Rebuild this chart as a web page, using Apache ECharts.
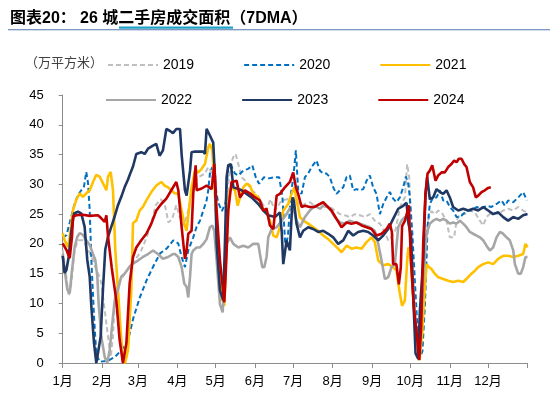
<!DOCTYPE html>
<html><head><meta charset="utf-8">
<script src="https://cdn.jsdelivr.net/npm/echarts@6/dist/echarts.min.js"></script>
<style>html,body{margin:0;padding:0;background:#fff}#c{width:550px;height:395px}</style>
</head><body><div id="c"></div>
<script>
// x values are day of year (0..365), y values are 万平方米 (7DMA)
const monthStarts = [0,31,59,90,120,151,181,212,243,273,304,334,365];
const monthLabels = ['1月','2月','3月','4月','5月','6月','7月','8月','9月','10月','11月','12月'];
const yTicks = [0,5,10,15,20,25,30,35,40,45];
const seriesNames = ['2019','2020','2021','2022','2023','2024'];

const s2019 = [[0,19],[2.9,14.5],[4.7,11.2],[6.8,13.4],[9.4,19],[12,20.6],[15.9,20.6],[19.9,19],[23.8,17.3],[26.4,15.6],[29,14.5],[30.3,13.4],[33,8.9],[35.6,4.4],[37.7,1],[39.5,4.4],[40.8,10],[42.9,13.4],[46,14],[48.6,15],[52.6,16.1],[55.2,16.7],[61.7,18.9],[65.7,21],[69.6,23.5],[73,26.5],[77,27.5],[80,26.8],[83,23.6],[86,24.2],[89.2,26.5],[92,24.5],[95,23],[98.6,25.6],[101.2,28.4],[103.9,30.6],[106.5,31.2],[111.7,31.8],[114.3,32.9],[117,32],[119.2,29],[121,22],[123.5,15],[126,14],[127.6,18],[129.5,28.4],[131.3,32.9],[134,34.6],[135.8,35.1],[137.9,33.4],[140.5,31.2],[144.4,30.4],[148.3,29],[152.3,28.4],[156.2,27],[160.1,25.6],[163,27.5],[166.7,25.6],[171.9,27.3],[176.5,27.5],[178.4,27.3],[182.3,27.8],[186.3,26.4],[190.2,26.7],[194.1,27],[198,26.4],[202,26.7],[205.9,26.2],[209.8,26.2],[213.7,25.6],[217.7,25],[221.6,24.8],[225.5,24.5],[229.4,25],[233.4,24.8],[237.3,24.5],[241.2,25],[245.1,23.9],[249.1,23.4],[253,22],[255.6,20.6],[258.2,21.1],[261.6,22.5],[264.8,26.2],[268.7,27.8],[270.5,33.4],[272.1,31.2],[274,22],[276.5,10],[279,5],[281.5,8],[284,18],[287,24],[289.6,25.5],[292.3,25],[294.9,25.6],[297.5,25.3],[301.4,23.9],[304,21.1],[305.3,20.8],[307.4,21.1],[309.3,23.9],[311.9,25],[315.8,25],[319.7,25.6],[323.7,25.3],[327.6,23.9],[330.2,23.1],[332.8,24.5],[335.4,25],[338,25.3],[342,25],[345.9,25.6],[349.8,25.9],[353.8,25.6],[357.7,26.2],[361.6,25.6],[364.5,25.3]];

const s2020 = [[0,21],[3,21.5],[6.8,24.6],[9.4,26.8],[12,28.2],[14.6,29],[16.7,29.6],[18.5,32.1],[19.9,30.2],[21.2,25.7],[22.5,17.3],[24.6,7.8],[26.4,1.5],[29,0.2],[35.6,0.4],[40.8,1],[46,2.1],[51.3,3.8],[55.4,7.5],[60.7,11.1],[65.9,13.9],[71.1,16.2],[76.4,18.4],[81.6,19.2],[86.8,20.6],[90.7,20.1],[93.4,17.8],[96,16.1],[98.6,18.9],[102.5,21.1],[105.2,22.9],[107.8,23.9],[110.4,25.6],[113,27.3],[114.3,29],[115.6,31.8],[117.5,32.9],[119.6,30],[122,27],[125,25.5],[128,27],[130,33.2],[132.6,33],[135.3,31.8],[137.9,31.5],[141.8,32.3],[145.7,32.6],[148.9,33.2],[151.6,31.2],[154.2,30.1],[158.1,31.2],[162,31],[166,31.2],[170,31.2],[172.5,28],[174.8,20],[176.8,21.1],[179.2,28.4],[181,31],[183.1,35.7],[184.9,29],[187.6,28.4],[190.2,31.2],[192.8,31.8],[195.4,32.9],[199.3,34],[202,32.3],[204.6,31.8],[207.2,31.8],[209.8,31.2],[212.4,29.5],[215,28.4],[217.7,29],[220.3,29.5],[222.9,31.2],[225.5,31.5],[228.1,29],[230.7,29.2],[233.4,29],[236,29.2],[238.6,30.6],[241.2,31.5],[243.8,29.5],[246.4,28.4],[249.1,25],[251.7,26.7],[254.3,27.8],[256.9,28.7],[259.5,27.6],[262.1,27],[264.8,27.8],[267.4,29.5],[269.5,31.3],[271.3,30.1],[272.5,28],[274.5,22],[277,12],[280,0.5],[282.5,2],[284.5,10],[285.5,16],[286.5,22.8],[288.3,26.7],[290.9,27.8],[293.6,27.8],[296.2,29],[298.8,27.3],[301.4,27.3],[304,26.2],[306.6,25.6],[309.3,24.5],[311.9,24.5],[314.5,25],[317.1,25.6],[321,25.6],[325,26.2],[328.9,25.9],[332.8,26.4],[336.7,26.2],[340.7,26.7],[344.6,27.3],[347.2,26.4],[349.8,27.3],[353.8,27],[357.7,27.8],[361.6,28.7],[364.5,27.3]];

const s2021 = [[0,21.8],[1.5,20.6],[4.2,19.5],[6.3,22.3],[8.1,25.7],[10.7,27.4],[13.3,28.5],[15.9,27.9],[18.5,28.5],[21.2,29],[23.8,30.4],[26.4,31.6],[29,31.3],[31.6,30.2],[34.3,29],[35.6,31.3],[37.7,32.1],[39.5,29],[41.3,19],[43.4,12.3],[45.5,5.5],[47.3,0.3],[49,0],[51.3,2.2],[53.9,12.3],[55.2,23.5],[57.8,23.9],[60.4,25.6],[63,26.2],[65.7,27.3],[69.6,28.7],[73.5,29.8],[77.4,30.4],[80,29.8],[82.7,29.5],[85.3,29],[87.9,28.5],[90.8,28.4],[93.4,25.6],[95.5,23.4],[97.3,22.2],[98.6,24.8],[101.2,29.5],[103.9,32.3],[106.5,32],[109.1,32.6],[111.7,33.4],[114.3,36.2],[115.6,36.8],[117.5,35.7],[119.6,28.4],[122.2,17.2],[124.8,11],[126.9,9.6],[128.7,20],[130.6,28.4],[132.6,29.5],[135.3,29],[137.4,26.4],[139.2,27.8],[141.8,29.5],[144.4,30.1],[147,29.8],[149.6,28.4],[153.6,27.8],[156.2,26.2],[160.1,25.3],[162.7,23.9],[165.4,21.4],[168,21.1],[170.6,22.8],[173.2,25.6],[177.1,26.7],[179.7,28.4],[182,29.5],[184,27],[186.3,24.5],[189,23.9],[192.8,23.4],[196.7,22.8],[200.6,22.2],[204.6,21.4],[208.5,20.8],[212.4,20],[216.3,19.2],[219,18.6],[222.9,19.7],[226.8,19.2],[230.7,19.4],[234.7,19.2],[238.6,20.3],[242.5,21.1],[245.1,20.3],[247.8,17.2],[251.7,16.4],[255.6,16.6],[259.5,16.1],[262.1,15.5],[264.5,12],[266.5,9.6],[268.7,10.5],[270.5,17.2],[271.5,19.4],[273,18.5],[275.2,11],[277.8,4],[280.2,0.5],[282.3,5],[284,11.6],[285.7,16.6],[287.5,16.1],[289.6,15.8],[292.2,15],[294.9,14.4],[298.8,14.1],[302.7,13.8],[306.6,13.6],[310.6,13.8],[314.5,13.6],[318.4,14.4],[321,15],[323.7,15.5],[326.3,16.1],[330.2,16.6],[334.1,16.9],[338,16.6],[342,17.5],[345.9,18],[349.8,18],[353.8,17.8],[357.7,18],[361.6,18.3],[363.4,20],[365,19.4]];

const s2022 = [[0,18.3],[1.5,15.6],[3.7,12.3],[5.5,11.7],[7.3,15.6],[9.4,19.5],[11.5,21.2],[13.3,21.8],[15.9,21.5],[18.5,20.6],[21.2,19.8],[23.8,18.3],[25.6,17.3],[27.2,14.5],[28.2,10],[30.3,4.4],[33,1],[35,0],[36.9,2.2],[38.7,6.1],[40.8,10.5],[43.4,12.3],[46,14.5],[48.6,15],[52.6,16.2],[55.2,16.7],[59.1,17.2],[63,17.8],[67,18.3],[70.9,18.9],[74.8,18.3],[78.7,17.5],[82.7,17.8],[86.6,18.3],[88.2,18.3],[90.8,17.8],[93.4,16.1],[95.5,13.3],[97.3,12.8],[98.6,11],[100,14.5],[101.2,18.3],[102.5,18.9],[105.2,19.4],[107.8,19.4],[110.4,20],[113,20.8],[115.6,22.8],[117.5,23.1],[119,22.2],[120.9,17.2],[123.5,9.9],[125.6,8.5],[127.4,14.4],[128.7,20],[131.3,21.1],[134,20],[137.9,19.4],[141.8,19.7],[145.7,19.4],[149.6,20],[153.6,20],[154.9,18.3],[156.7,16.1],[158.3,16.1],[160.1,17.8],[161.4,21.1],[164.1,22.5],[168,22.8],[171.9,23.9],[175.8,25],[178.4,26],[181,26.2],[183.6,23.9],[186.3,22.8],[190.2,24.5],[194.1,25.6],[198,26.4],[202,25.9],[205.9,26.7],[209.8,25.9],[213.7,24.5],[217.7,23.6],[221.6,23.4],[225.5,23.9],[229.4,23.6],[233.4,23.4],[237.3,23.1],[241.2,22.8],[245.1,22.2],[247.8,20],[250.4,17.2],[253,14.1],[255.6,14.4],[258.2,16.1],[260.8,16.6],[263.5,22.8],[266.1,23.9],[268.7,24.5],[271.3,24.5],[273.5,20],[276,10],[278.5,3],[281,6],[283.5,15],[285.7,21.7],[288.3,23.4],[290.9,23.9],[293.6,24.2],[296.2,23.9],[298.8,24.2],[301.4,23.9],[304,23.4],[306.6,23.6],[309.3,23.4],[311.9,23.9],[314.5,23.4],[317.1,22.8],[319.7,22],[322.3,21.7],[325,21.4],[327.6,21.1],[330.2,20.6],[332.8,19.7],[335.4,18.9],[338,19.4],[340.7,21.1],[343.3,22],[345.9,21.7],[348.5,21.1],[351.1,20.6],[353.8,18.9],[355.1,16.6],[357.7,15],[359.8,15],[361.6,16.1],[363.4,17.8],[365,17.8]];

const s2023 = [[0,18],[1.5,15.1],[2.9,15.6],[4.7,17.8],[6.8,22.3],[8.9,25.1],[12,25.4],[14.6,25.1],[17.2,22.9],[19.3,17.3],[21.2,14.5],[22.5,9.5],[24.6,3.3],[26.4,0],[27.7,0],[29.8,4.4],[31.6,12.3],[33.4,19],[35.6,21.2],[38.2,22.9],[40.8,24.6],[43.4,26.5],[46,27.9],[48.6,29.5],[51.3,30.8],[53,31.8],[55.2,33],[57.8,35.1],[61.7,35.4],[64.4,35.1],[67,36],[70.9,36.5],[73.5,36.8],[76.1,34.8],[78.7,35.7],[81.4,39.3],[84,39],[86.6,38.6],[89.2,39.3],[92.1,39.3],[93.4,35],[96,29],[97.3,28.1],[100,32.3],[101.2,35.4],[103.9,35.5],[110.4,35.5],[111.7,35.1],[113,39.3],[115.6,38.2],[118.2,37],[119.6,31.2],[120.9,20],[123.5,12.2],[126.1,10.5],[127.4,20],[128.7,31.2],[130,33.2],[132.1,33.4],[134,29.5],[137.9,29.2],[140.5,29],[144.4,28.4],[148.3,27.8],[153.6,26.7],[157.5,25.6],[161.4,24.8],[166.7,24.5],[170.6,25.3],[172,22],[173.2,16.6],[175.8,20.6],[178.4,18.9],[180.5,27.8],[181.5,27.3],[183.6,23.4],[186.3,21.1],[188.9,22.2],[192.8,22.8],[196.7,22.5],[200.6,22],[204.6,22.2],[208.5,21.7],[212.4,21.1],[216.3,20],[220.3,20.6],[224.2,22.2],[228.1,21.4],[232,22],[236,22.2],[239.9,22],[243.8,21.4],[247.8,20.6],[251.7,21.4],[255.6,22.5],[259.5,24.2],[263.5,25.9],[267.4,26.4],[270,26.9],[271.5,23.5],[273.5,21.5],[275.2,11.6],[277.1,1.6],[279.2,0.7],[280.5,8.8],[283.1,17.2],[284.9,28.4],[286.2,31.2],[288.3,27.5],[290.9,27.8],[293.6,29.2],[296.2,28.7],[298.8,28.4],[301.4,29],[304,27.8],[306.6,26.2],[310.6,25.6],[314.5,25.9],[318.4,25.6],[322.3,25.9],[326.3,25.6],[330.2,26.2],[334.1,25.6],[338,25],[342,25.3],[345.9,24.5],[349.8,23.9],[353.8,24.5],[357.7,24.2],[361.6,24.8],[365,25]];

const s2024 = [[0,20.1],[2.9,19],[5.5,17.6],[7.3,21.2],[8.1,24.6],[10.7,24.8],[15.9,24.9],[21.2,24.7],[27.7,24.8],[30.3,24.3],[33,23.7],[34.3,24.8],[35.6,21.2],[38.5,16],[42.1,10.5],[44.7,3.9],[47.3,0],[50,3.3],[52.6,13.4],[55.2,17.8],[57.8,19.4],[61.7,20.6],[65.7,21.7],[69.6,23.4],[73.5,25.6],[77.4,26.7],[81.4,27.6],[85.3,29],[89.2,30.4],[90.8,29],[93.4,22.8],[96,17.5],[97.3,18.9],[98.6,21.7],[101.2,22.2],[102.5,28.4],[104.4,33.2],[105.2,29],[109.1,29.3],[113,29.8],[117,29.2],[119,33.4],[120.9,25.6],[123.5,17.2],[126.9,10.2],[127.9,14.4],[130,25.6],[132.6,30.4],[136.6,30.6],[139.2,27.8],[143.1,29],[147,28.5],[151,27.8],[154.9,27.3],[157.5,25.6],[160.1,25.9],[162.7,23.1],[165.4,22.5],[168,28.1],[170.6,28.4],[174.5,29.5],[178.4,30.4],[181,32],[183.1,29.5],[184.9,28.4],[187.6,26.2],[190.2,26.4],[194.1,26.2],[198,26.2],[202,26.7],[204.6,27],[207.2,26.4],[211.1,25.6],[215,24.2],[219,22.8],[222.9,23.6],[226.8,23.4],[230.7,23.6],[234.7,23.1],[238.6,22.8],[242.5,22.5],[246.4,21.4],[250.4,21.7],[254.3,22.5],[256.9,23.4],[258.5,22],[259.5,16.6],[262,16.6],[264,13.2],[265.5,16],[266.5,23],[269,24],[271.8,26.5],[273.5,17],[276,8.8],[278,5],[280,0.5],[281.5,6],[283.1,20],[284.9,28.4],[286.5,31.8],[288.3,32.3],[290.2,33.2],[291.5,33.4],[292.8,30.6],[294.9,31.5],[297.5,32],[300.1,32],[302.7,32.9],[305.3,33.4],[307.4,34],[309.3,33.7],[311.1,34.3],[313.2,34.3],[315.3,33.4],[317.1,32.9],[319.7,30.4],[322.3,29.5],[324.4,27.8],[326.3,28.1],[328.9,28.7],[331.5,29],[334.1,29.4],[336.2,29.5]];

const seriesData = [s2019, s2020, s2021, s2022, s2023, s2024];
const colors = ['#BFBFBF','#0070C0','#FFC000','#A6A6A6','#1F3864','#C00000'];
const dashed = [true, true, false, false, false, false];

const FONT = '"Liberation Sans", Arial, "Noto Sans CJK SC", sans-serif';
const chart = echarts.init(document.getElementById('c'), null, {renderer: 'canvas'});

const series = seriesNames.map((n, i) => ({
  name: n, type: 'line', data: seriesData[i], showSymbol: false, symbol: 'none',
  animation: false, z: 2 + i,
  lineStyle: {color: colors[i], width: dashed[i] ? 2 : 2.6, type: dashed[i] ? [5, 3] : 'solid'},
  itemStyle: {color: colors[i]}
}));

const legendBase = {
  itemWidth: 50, itemHeight: 12, itemGap: 49,
  itemStyle: {opacity: 0, borderWidth: 0},
  textStyle: {fontSize: 14, color: '#000', fontFamily: FONT},
  selectedMode: false
};

chart.setOption({
  animation: false,
  grid: {left: 62.7, right: 22.5, top: 95, bottom: 32, containLabel: false},
  legend: [
    Object.assign({}, legendBase, {data: seriesNames.slice(0, 3), left: 102, top: 53}),
    Object.assign({}, legendBase, {data: seriesNames.slice(3, 6), left: 100, top: 88})
  ],
  graphic: [
    {type: 'text', left: 10, top: 11, style: {
      text: '图表20：', font: 'bold 16px ' + FONT, fill: '#000'}},
    {type: 'text', left: 80, top: 11, style: {
      text: '26 城二手房成交面积（7DMA）', font: 'bold 16px ' + FONT, fill: '#000'}},
    {type: 'rect', shape: {x: 119, y: 26.5, width: 114, height: 2.2}, style: {fill: '#1FA1C4'}},
    {type: 'rect', shape: {x: 8, y: 29.3, width: 542, height: 1}, style: {fill: '#4F74AE'}},
    {type: 'text', left: 25, top: 56, style: {
      text: '（万平方米）', font: '13px "Noto Sans CJK SC", sans-serif', fill: '#404040'}}
  ],
  xAxis: {
    type: 'value', min: 0, max: 365,
    axisLine: {show: true, lineStyle: {color: '#8C8C8C', width: 1}},
    axisTick: {show: true, length: 5, lineStyle: {color: '#8C8C8C'}, customValues: monthStarts},
    axisLabel: {
      customValues: monthStarts.slice(0, 12), margin: 12,
      fontSize: 13, color: '#000', fontFamily: FONT,
      formatter: v => monthLabels[monthStarts.indexOf(Math.round(v))] || ''
    },
    splitLine: {show: false}
  },
  yAxis: {
    type: 'value', min: 0, max: 45, interval: 5,
    axisLine: {show: true, lineStyle: {color: '#8C8C8C', width: 1}},
    axisTick: {show: true, length: 4, lineStyle: {color: '#8C8C8C'}},
    axisLabel: {fontSize: 13, color: '#000', fontFamily: FONT, margin: 19,
      formatter: v => yTicks.indexOf(v) >= 0 ? String(v) : ''},
    splitLine: {show: false}
  },
  series: series
});
</script>
</body></html>
